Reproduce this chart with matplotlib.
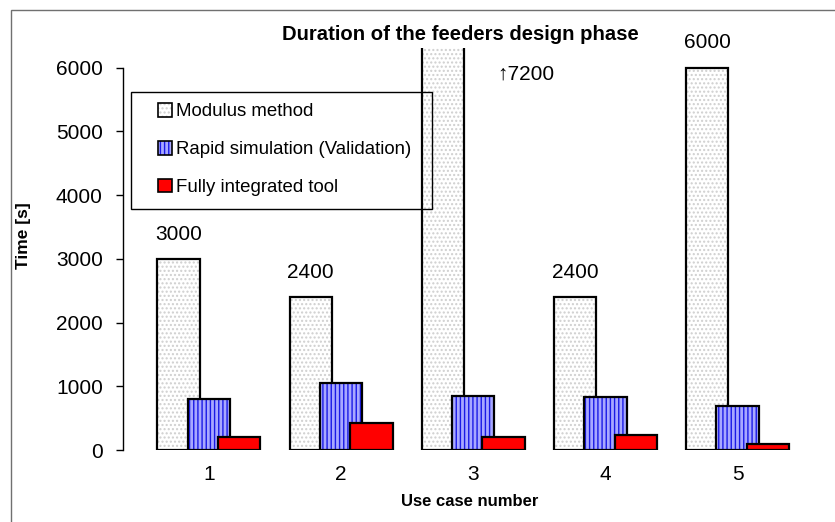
import numpy as np
import matplotlib
matplotlib.use("Agg")
import matplotlib.pyplot as plt
from matplotlib.patches import Patch, Rectangle

plt.rcParams['font.family'] = ['Liberation Sans', 'DejaVu Sans']

cases = [1, 2, 3, 4, 5]
modulus = [3000, 2400, 7200, 2400, 6000]
rapid = [800, 1050, 840, 830, 690]
integrated = [200, 420, 210, 240, 100]
series_names = ["Modulus method", "Rapid simulation (Validation)", "Fully integrated tool"]
bar_labels = ["3000", "2400", "\u21917200", "2400", "6000"]

fig = plt.figure(figsize=(8.35, 5.22), dpi=100)
ax = fig.add_axes([123/835, 72/522, 711/835, 402/522])

x = np.array(cases, dtype=float)
w = 0.32
off = 0.23

# modulus: dotted texture + outline
ax.bar(x - off, modulus, w, color='white', hatch='....', edgecolor='#cfcfcf', linewidth=0, zorder=1)
ax.bar(x - off, modulus, w, fill=False, edgecolor='black', linewidth=1.6, zorder=1.5)
# rapid simulation: vertical stripes
ax.bar(x, rapid, w, color='#a8a8ff', hatch='||||', edgecolor='#1a1ae6', linewidth=0, zorder=2)
ax.bar(x, rapid, w, fill=False, edgecolor='black', linewidth=1.6, zorder=2.5)
# fully integrated
ax.bar(x + off, integrated, w, color='red', edgecolor='black', linewidth=1.6, zorder=3)

for xi, v, lab in zip(x, modulus, bar_labels):
    if v > 6000:
        # bar goes off the scale, value written beside it
        ax.text(xi + 0.40, 5905, lab, ha='center', va='center', fontsize=15)
    else:
        ax.annotate(lab, (xi - off, v), xytext=(0, 11), textcoords='offset points',
                    ha='center', va='bottom', fontsize=15)

ax.set_xlim(0.35, 5.73)
ax.set_ylim(0, 6310)
ax.set_yticks(range(0, 6001, 1000))
ax.set_xticks(cases)
ax.tick_params(axis='y', length=5, width=1, pad=9.5, labelsize=15)
ax.tick_params(axis='x', length=0, pad=11, labelsize=15)
for s in ['top', 'right', 'bottom']:
    ax.spines[s].set_visible(False)
ax.spines['left'].set_bounds(0, 6000)
ax.spines['left'].set_linewidth(1)

ax.set_ylabel("Time [s]", fontsize=12.5, fontweight='bold')
ax.yaxis.set_label_coords((31 - 123) / 711, (450 - 236) / 402)
ax.set_xlabel("Use case number", fontsize=12, fontweight='bold')
ax.xaxis.set_label_coords((470 - 123) / 711, (450 - 494) / 402)

fig.text(460/835, 1 - 34/522, "Duration of the feeders design phase",
         ha='center', va='center', fontsize=14.6, fontweight='bold')

handles = [
    (Patch(facecolor='white', hatch='....', edgecolor='#cfcfcf', linewidth=0),
     Patch(fill=False, edgecolor='black', linewidth=1.2)),
    (Patch(facecolor='#a8a8ff', hatch='||||', edgecolor='#1a1ae6', linewidth=0),
     Patch(fill=False, edgecolor='black', linewidth=1.2)),
    Patch(facecolor='red', edgecolor='black', linewidth=1.2),
]
leg = ax.legend(handles, series_names, loc='upper left',
                bbox_to_anchor=(158/835, 1 - 103/522), bbox_transform=fig.transFigure,
                fontsize=13.4, frameon=False, borderpad=0,
                labelspacing=1.1, handlelength=0.76, handleheight=0.76,
                handletextpad=0.2, borderaxespad=0)
# legend box drawn separately (wider than its contents)
ax.add_patch(Rectangle((131/835, 1 - 209/522), 301/835, 117/522, transform=fig.transFigure,
                       fill=False, edgecolor='black', linewidth=1, clip_on=False, zorder=4))

fig.add_artist(Rectangle((11/835, -0.2), 1.2, 1.2 - 10/522, transform=fig.transFigure,
                         fill=False, edgecolor='#707070', linewidth=1))

fig.savefig("out.png", dpi=100)
